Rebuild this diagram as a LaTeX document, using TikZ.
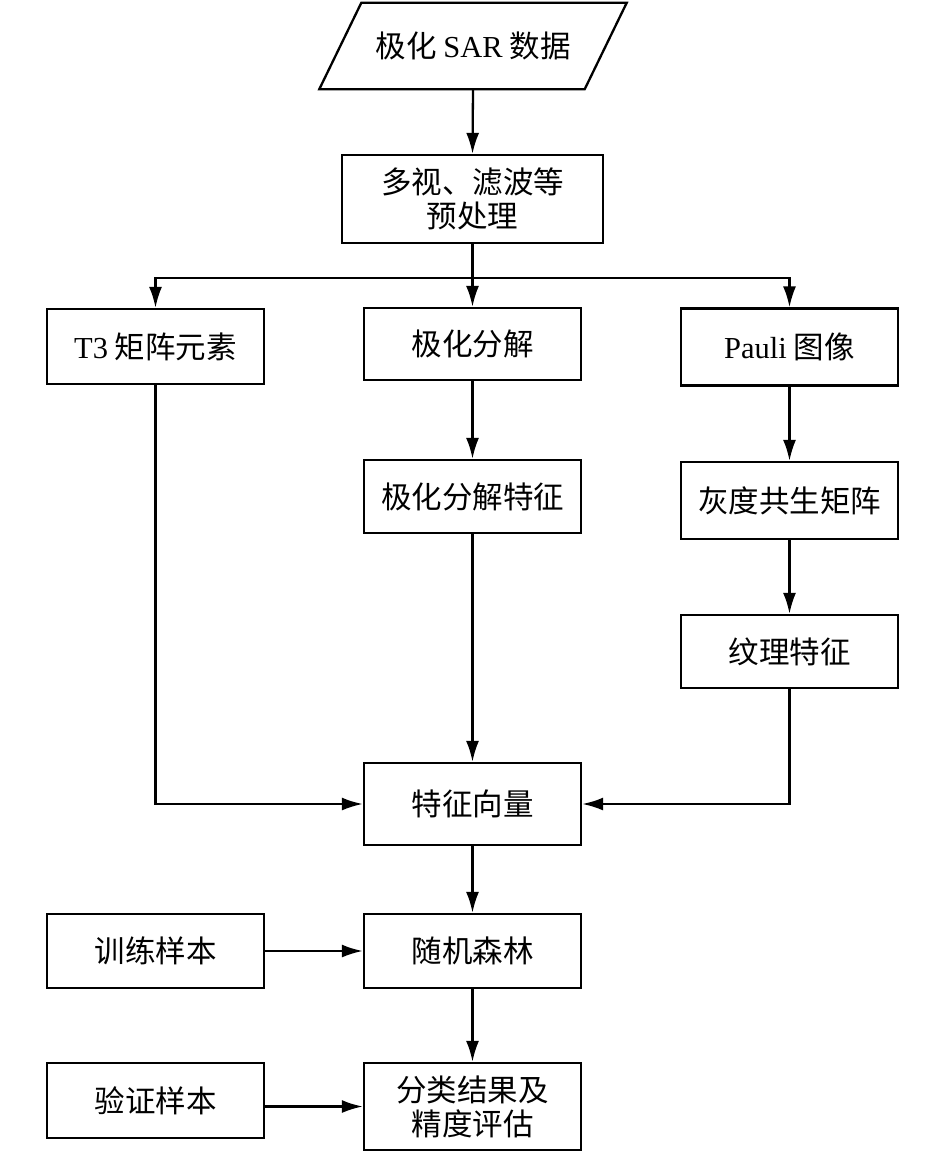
\documentclass[tikz,border=0pt]{standalone}
\usepackage{fontspec}
\setmainfont{Liberation Serif}
\newfontfamily\cjk{Noto Sans CJK SC}
\usetikzlibrary{arrows.meta}
\newcommand{\lat}[1]{{\rmfamily #1}}
\begin{document}
\begin{tikzpicture}[x=1pt,y=-1pt,
  txt/.style={inner sep=0pt, align=center, font=\cjk\fontsize{30.5}{34}\selectfont},
  box/.style={txt, draw, line width=2.3pt, minimum width=217pt},
  arr/.style={line width=2.3pt, -{Latex[length=21pt,width=13pt]}}]
\useasboundingbox (0,0) rectangle (945,1153);
% nodes
\node[txt, minimum width=265pt, minimum height=86pt] (data) at (473,46) {极化 \lat{SAR} 数据};
\draw[line width=2.3pt] ([xshift=-21pt]data.south west) -- ([xshift=21pt]data.north west)
  -- ([xshift=21pt]data.north east) -- ([xshift=-21pt]data.south east) -- cycle;
\node[box, minimum width=261pt, minimum height=88pt] (pre) at (472.5,199) {多视、滤波等\\预处理};
\node[box, minimum height=75pt] (t3) at (155.5,346.5) {\lat{T3} 矩阵元素};
\node[box, minimum height=72pt] (pol) at (472.5,344) {极化分解};
\node[box, minimum height=77pt] (pauli) at (789.5,347) {\lat{Pauli} 图像};
\node[box, minimum height=73pt] (polf) at (472.5,496.5) {极化分解特征};
\node[box, minimum height=77pt] (glcm) at (789.5,500.5) {灰度共生矩阵};
\node[box, minimum height=73pt] (tex) at (789.5,651.5) {纹理特征};
\node[box, minimum height=82pt] (fv) at (472.5,804) {特征向量};
\node[box, minimum height=74pt] (train) at (155.5,951) {训练样本};
\node[box, minimum height=74pt] (rf) at (472.5,951) {随机森林};
\node[box, minimum height=75pt] (val) at (155.5,1100.5) {验证样本};
\node[box, minimum height=87pt] (res) at (472.5,1106.5) {分类结果及\\精度评估};
\coordinate (br) at (472.5,278);
% connectors
\draw[arr] (data.south) -- (pre.north);
\draw[arr] (pre.south) -- (pol.north);
\draw[arr] (br) -| (t3.north);
\draw[arr] (br) -| (pauli.north);
\draw[arr] (pol) -- (polf);
\draw[arr] (pauli) -- (glcm);
\draw[arr] (glcm) -- (tex);
\draw[arr] (t3.south) |- (fv.west);
\draw[arr] (polf) -- (fv);
\draw[arr] (tex.south) |- (fv.east);
\draw[arr] (fv) -- (rf);
\draw[arr] (train) -- (rf);
\draw[arr] (rf) -- (res);
\draw[arr] (val.east |- res.west) -- (res.west);
\end{tikzpicture}
\end{document}
